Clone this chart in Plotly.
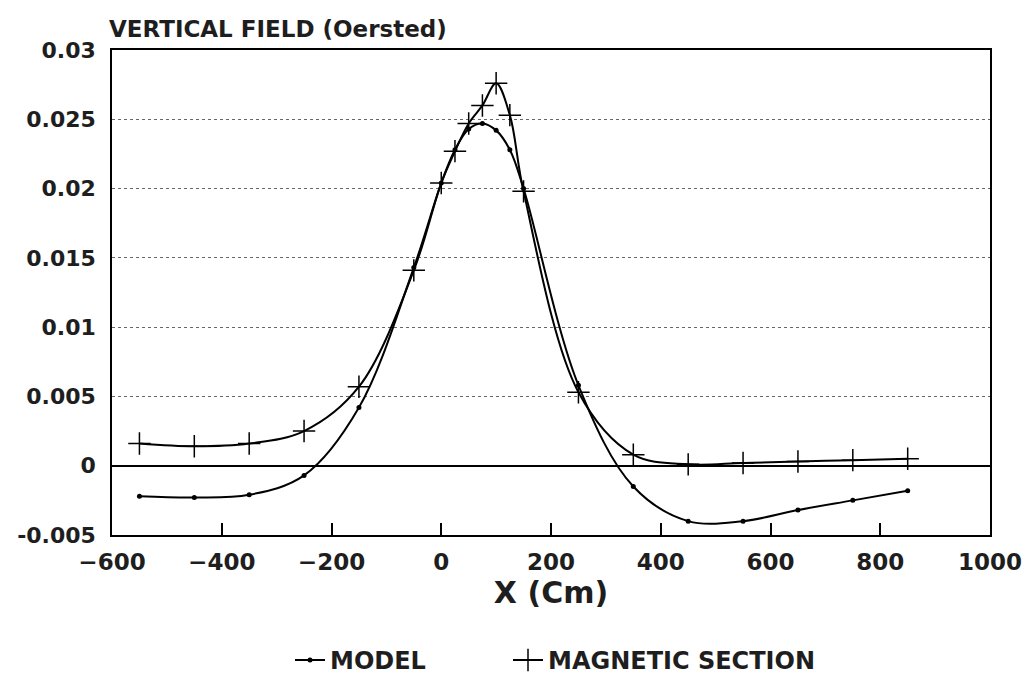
import plotly.graph_objects as go

x_model = [-550, -450, -350, -250, -150, -50, 0, 25, 50, 75, 100, 125, 150, 250, 350, 450, 550, 650, 750, 850]
y_model = [-0.0022, -0.0023, -0.0021, -0.0007, 0.0042, 0.0143, 0.0204, 0.0228, 0.0243, 0.0247, 0.0242, 0.0228,
           0.0200, 0.0058, -0.0015, -0.0040, -0.0040, -0.0032, -0.0025, -0.0018]

x_mag = [-550, -450, -350, -250, -150, -50, 0, 25, 50, 75, 100, 125, 150, 250, 350, 450, 550, 650, 750, 850]
y_mag = [0.0016, 0.0014, 0.0016, 0.0025, 0.0057, 0.0141, 0.0204, 0.0227, 0.0247, 0.0260, 0.0276, 0.0253,
         0.0198, 0.0053, 0.0008, 0.0001, 0.0002, 0.0003, 0.0004, 0.0005]

x_ticks = [-600, -400, -200, 0, 200, 400, 600, 800, 1000]
y_ticks = [-0.005, 0, 0.005, 0.01, 0.015, 0.02, 0.025, 0.03]
y_tick_labels = ["-0.005", "0", "0.005", "0.01", "0.015", "0.02", "0.025", "0.03"]

FONT = "DejaVu Sans"
INK = "#1e1e1e"

fig = go.Figure()
fig.add_trace(go.Scatter(
    x=x_model, y=y_model, name="MODEL", mode="lines+markers", legend="legend",
    line=dict(color="black", width=2, shape="spline", smoothing=1.0),
    marker=dict(symbol="circle", size=5, color="black"),
))
fig.add_trace(go.Scatter(
    x=x_mag, y=y_mag, name="MAGNETIC SECTION", mode="lines+markers", legend="legend2",
    line=dict(color="black", width=2, shape="spline", smoothing=1.0),
    marker=dict(symbol="cross-thin-open", size=16, line=dict(color="black", width=1.5)),
))

leg_common = dict(orientation="h", xref="container", yref="container", xanchor="left",
                  y=0.036, yanchor="middle", itemwidth=30, bgcolor="rgba(0,0,0,0)",
                  font=dict(family=FONT, size=24, color=INK, weight="bold"))

fig.update_layout(
    width=1023, height=685,
    margin=dict(l=112, r=33, t=50, b=150, autoexpand=False),
    paper_bgcolor="white", plot_bgcolor="white",
    font=dict(family=FONT, color=INK, size=19),
    showlegend=True,
    legend=dict(leg_common, x=290 / 1023),
    legend2=dict(leg_common, x=508 / 1023),
    xaxis=dict(
        range=[-600, 1000], tickvals=x_ticks, ticks="inside", ticklen=12, tickwidth=1.5,
        tickcolor="black", showgrid=False, zeroline=False, showline=True, linecolor="black",
        linewidth=1.5, mirror=True, ticklabelstandoff=6,
        tickfont=dict(family=FONT, size=23, color=INK, weight="bold"),
        title=dict(text="X (Cm)", font=dict(family=FONT, size=30, color=INK, weight="bold"), standoff=2),
    ),
    yaxis=dict(
        range=[-0.005, 0.03], tickvals=y_ticks, ticktext=y_tick_labels, ticks="",
        showgrid=True, gridcolor="#666", griddash="dot", gridwidth=1,
        zeroline=True, zerolinecolor="black", zerolinewidth=1.5,
        showline=True, linecolor="black", linewidth=1.5, mirror=True, ticklabelstandoff=10,
        tickfont=dict(family=FONT, size=22, color=INK, weight="bold"),
    ),
    annotations=[dict(
        text="VERTICAL FIELD (Oersted)", xref="paper", yref="paper", x=-0.006, y=1.012,
        xanchor="left", yanchor="bottom", showarrow=False,
        font=dict(family=FONT, size=23, color=INK, weight="bold"),
    )],
)

fig.write_html("out.html")
